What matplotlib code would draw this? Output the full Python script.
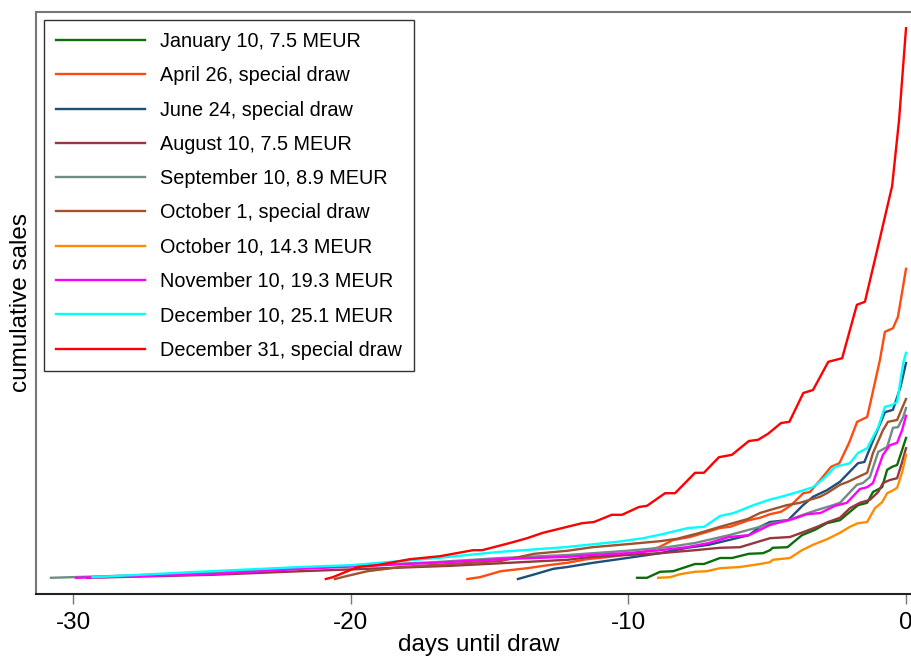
import matplotlib
matplotlib.use("Agg")
import matplotlib.pyplot as plt

plt.rcParams["font.family"] = ["Liberation Sans", "DejaVu Sans"]
plt.rcParams["axes.unicode_minus"] = False

# cumulative sales (arbitrary units) vs days until draw
jan10_days = [-9.69, -9.33, -8.86, -8.39, -7.6, -7.28, -6.7, -6.27, -5.66, -5.15, -4.9, -4.8, -4.27,
              -3.75, -3.28, -2.85, -2.38, -2.02, -1.73, -1.4, -1.19, -0.86, -0.68, -0.5, -0.32, -0.14, 0]
jan10_vals = [2.7, 2.7, 3.7, 3.8, 5.0, 5.0, 6.0, 6.0, 6.7, 6.8, 7.3, 7.7, 7.8,
              9.8, 10.7, 11.8, 12.3, 13.7, 14.8, 15.2, 17.0, 17.8, 20.7, 21.2, 21.5, 24.0, 26.0]

apr26_days = [-15.8, -15.35, -14.6, -13.65, -12.9, -12.2, -11.5, -10.66, -9.47, -8.9, -8.39, -7.78,
              -7.27, -6.7, -6.34, -5.66, -5.26, -4.9, -4.5, -4.14, -3.7, -3.46, -3.0, -2.7, -2.4,
              -2.05, -1.76, -1.4, -1.3, -0.94, -0.76, -0.47, -0.29, 0]
apr26_vals = [2.5, 2.8, 3.8, 4.3, 4.8, 5.2, 5.8, 6.2, 7.0, 7.8, 9.0, 9.5,
              10.2, 11.0, 11.2, 12.3, 12.7, 13.3, 13.7, 14.8, 16.8, 17.0, 19.5, 21.2, 21.8,
              25.2, 28.7, 29.5, 31.5, 39.0, 43.7, 44.3, 46.2, 54.2]

jun24_days = [-13.98, -13.44, -12.7, -12.2, -11.27, -10.05, -8.86, -7.89, -7.1, -6.38, -5.66, -5.26,
              -4.9, -4.5, -4.25, -3.71, -3.35, -2.85, -2.38, -1.73, -1.5, -1.22, -0.76, -0.47, -0.2, 0]
jun24_vals = [2.5, 3.2, 4.2, 4.5, 5.2, 6.0, 6.8, 7.7, 8.2, 9.0, 9.8, 11.2,
              12.0, 12.2, 12.3, 14.8, 16.2, 17.3, 18.7, 21.8, 22.0, 25.2, 30.3, 30.7, 34.5, 38.5]

aug10_days = [-29.5, -25, -21.8, -19.4, -16.4, -12.2, -11.3, -10.05, -8.86, -7.6, -6.7, -5.98, -4.9,
              -4.18, -3.71, -3.2, -2.81, -2.38, -2.02, -1.66, -1.3, -1.0, -0.83, -0.58, -0.32, -0.14, 0]
aug10_vals = [2.7, 3.2, 3.8, 4.2, 4.7, 5.7, 6.2, 6.5, 6.8, 7.3, 7.7, 7.8, 9.3,
              9.5, 10.3, 11.2, 12.0, 12.7, 14.3, 15.2, 15.7, 17.0, 18.5, 19.0, 19.3, 22.0, 24.3]

sep10_days = [-30.8, -25, -21.8, -19.4, -17, -14.6, -12.2, -10.05, -8.6, -7.6, -6.38, -5.26, -4.82,
              -4.25, -3.71, -3.2, -2.63, -2.38, -1.77, -1.55, -1.3, -1.0, -0.68, -0.47, -0.29, -0.1, 0]
sep10_vals = [2.7, 3.5, 4.3, 4.8, 5.3, 6.0, 6.5, 7.2, 7.8, 8.5, 9.8, 11.2, 11.8,
              12.3, 13.2, 14.0, 14.8, 15.2, 18.2, 18.5, 19.5, 23.7, 24.5, 27.7, 27.8, 29.5, 31.0]

oct1_days = [-20.57, -20.14, -19.4, -18.2, -16.4, -14.6, -13.4, -12.2, -11.3, -10.05, -8.86, -8.25,
             -7.42, -6.7, -5.7, -5.26, -4.9, -4.3, -3.82, -3.1, -2.85, -2.38, -2.09, -1.73, -1.4,
             -1.19, -0.83, -0.65, -0.32, -0.14, 0]
oct1_vals = [2.5, 3.0, 3.8, 4.5, 5.0, 5.5, 6.7, 7.2, 7.8, 8.3, 8.8, 9.2,
             10.2, 11.2, 12.5, 13.5, 14.0, 14.8, 15.2, 16.2, 16.8, 18.2, 18.7, 19.5, 20.2,
             23.5, 27.3, 28.7, 29.0, 31.0, 32.5]

oct10_days = [-8.93, -8.5, -8.14, -7.6, -7.17, -6.7, -5.98, -5.26, -4.9, -4.8, -4.18, -3.75, -3.35,
              -2.81, -2.38, -2.02, -1.73, -1.4, -1.12, -0.86, -0.68, -0.5, -0.32, -0.14, 0]
oct10_vals = [2.7, 2.8, 3.3, 3.7, 3.8, 4.3, 4.5, 5.0, 5.3, 5.7, 6.0, 7.3, 8.2,
              9.2, 10.2, 11.2, 11.8, 12.0, 14.3, 15.3, 16.8, 17.2, 17.7, 20.3, 23.2]

nov10_days = [-29.9, -25, -21.8, -19.4, -17.0, -14.6, -12.2, -11.3, -10.05, -8.86, -7.89, -7.1, -6.38,
              -5.66, -4.9, -4.5, -4.07, -3.57, -3.08, -2.56, -2.13, -1.66, -1.4, -1.19, -0.83, -0.58,
              -0.32, -0.14, 0]
nov10_vals = [2.7, 3.3, 4.2, 4.7, 5.2, 5.8, 6.2, 6.5, 6.8, 7.3, 7.8, 8.5, 9.5,
              9.8, 11.5, 12.0, 12.5, 13.3, 13.5, 14.7, 15.2, 17.5, 17.8, 18.5, 23.2, 24.8,
              25.2, 27.3, 29.7]

dec10_days = [-29.3, -25.5, -21.8, -20.0, -18.7, -16.9, -14.7, -12.3, -10.4, -9.47, -8.75, -7.85, -7.27,
              -6.7, -6.2, -5.5, -4.93, -4.5, -3.9, -3.35, -2.9, -2.56, -2.02, -1.73, -1.4, -1.0, -0.76,
              -0.5, -0.32, -0.1, 0]
dec10_vals = [2.8, 3.7, 4.5, 4.8, 5.3, 6.0, 7.0, 7.8, 8.7, 9.3, 10.0, 11.0, 11.2,
              13.0, 13.5, 14.8, 15.7, 16.2, 17.0, 17.8, 19.5, 21.2, 21.8, 23.5, 24.3, 27.8, 31.2,
              31.5, 32.0, 38.5, 40.2]

dec31_days = [-20.9, -20.65, -19.75, -19.06, -17.87, -16.79, -15.6, -15.27, -14.27, -13.65, -13.08,
              -12.2, -11.67, -11.24, -10.6, -10.23, -9.62, -9.33, -8.68, -8.32, -7.6, -7.28, -6.74,
              -6.27, -5.66, -5.33, -4.97, -4.5, -4.2, -3.7, -3.35, -2.8, -2.3, -1.77, -1.48, -1.04,
              -0.5, -0.25, 0]
dec31_vals = [2.5, 2.8, 4.5, 4.8, 5.8, 6.3, 7.3, 7.3, 8.5, 9.3, 10.2,
              11.2, 11.8, 12.0, 13.2, 13.2, 14.5, 14.7, 16.8, 16.8, 20.2, 20.2, 22.8,
              23.2, 25.5, 25.7, 26.7, 28.5, 28.7, 33.5, 34.0, 38.7, 39.3, 48.2, 48.7, 57.3,
              68.0, 79.0, 94.3]

labels = ["January 10, 7.5 MEUR", "April 26, special draw", "June 24, special draw",
          "August 10, 7.5 MEUR", "September 10, 8.9 MEUR", "October 1, special draw",
          "October 10, 14.3 MEUR", "November 10, 19.3 MEUR", "December 10, 25.1 MEUR",
          "December 31, special draw"]
colors = ["#0b6e0b", "#ff4a10", "#1f4e79", "#953640", "#708c84", "#a0522d",
          "#ff8c00", "#ff00ff", "#00ffff", "#ff0000"]

series = [(jan10_days, jan10_vals), (apr26_days, apr26_vals), (jun24_days, jun24_vals),
          (aug10_days, aug10_vals), (sep10_days, sep10_vals), (oct1_days, oct1_vals),
          (oct10_days, oct10_vals), (nov10_days, nov10_vals), (dec10_days, dec10_vals),
          (dec31_days, dec31_vals)]

fig = plt.figure(figsize=(9.12, 6.61), dpi=100)
ax = fig.add_axes([36 / 912, 67 / 661, 885 / 912, 582 / 661])

for (d, v), lab, col in zip(series, labels, colors):
    ax.plot(d, v, color=col, lw=1.7, label=lab)

ax.set_xlim(-31.34, 0.54)
ax.set_ylim(0, 97)
ax.set_xticks([-30, -20, -10, 0])
ax.set_yticks([])
ax.tick_params(axis="x", direction="out", length=7, width=1, color="#777777",
               labelsize=17.5, pad=6)
ax.spines["left"].set_color("#777777")
ax.spines["top"].set_color("#777777")
ax.spines["bottom"].set_color("#222222")
for s in ["left", "top", "bottom", "right"]:
    ax.spines[s].set_linewidth(1.5)

ax.set_xlabel("days until draw", fontsize=17.5, labelpad=0)
ax.set_ylabel("cumulative sales", fontsize=17.5, labelpad=3)

leg = ax.legend(loc="upper left", bbox_to_anchor=(8 / 885, 574 / 582), borderaxespad=0,
                fontsize=14.3, handlelength=4.5, handletextpad=0.75, labelspacing=0.77,
                borderpad=0.6, fancybox=False, framealpha=1, edgecolor="#333333")
leg.get_frame().set_linewidth(1)

fig.savefig("out.png", dpi=100)
